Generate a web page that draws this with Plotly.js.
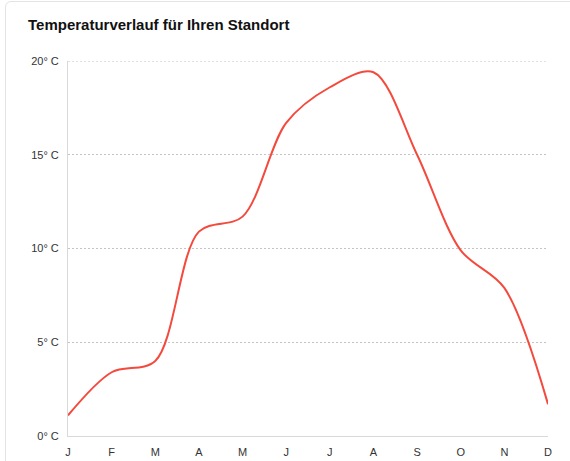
<!DOCTYPE html>
<html>
<head>
<meta charset="utf-8">
<script src="https://cdn.plot.ly/plotly-3.0.1.min.js"></script>
<style>
  html, body { margin: 0; padding: 0; background: #fff; overflow: hidden; }
  #chart { width: 570px; height: 461px; }
  #card { position: absolute; left: 5px; top: 1px; width: 620px; height: 520px;
          border: 1px solid #e3e3e3; border-radius: 6px; pointer-events: none; box-sizing: border-box; }
</style>
</head>
<body>
<div id="chart"></div>
<div id="card"></div>
<script>
const months = ["J", "F", "M", "A", "M", "J", "J", "A", "S", "O", "N", "D"];
const temperatures = [1.1, 3.4, 4.0, 10.9, 11.7, 16.7, 18.6, 19.4, 15.0, 9.9, 7.9, 1.7];
const yTickValues = [0, 5, 10, 15, 20];
const yTickLabels = ["0° C", "5° C", "10° C", "15° C", "20° C"];
const monthIndex = months.map((m, i) => i);

const trace = {
  x: monthIndex,
  y: temperatures,
  type: "scatter",
  mode: "lines",
  line: { color: "#f44a3e", width: 2, shape: "spline", smoothing: 0.9 },
  hoverinfo: "skip"
};

const yMax = yTickValues[yTickValues.length - 1];
const gridColor = "#c4c4c4";

const layout = {
  width: 570,
  height: 461,
  margin: { l: 68, r: 22, t: 61, b: 25 },
  paper_bgcolor: "rgba(0,0,0,0)",
  plot_bgcolor: "rgba(0,0,0,0)",
  showlegend: false,
  title: {
    text: "<b>Temperaturverlauf für Ihren Standort</b>",
    x: 0, xref: "container", xanchor: "left",
    y: 1, yref: "container", yanchor: "top",
    pad: { l: 28, t: 19 },
    font: { family: "Liberation Sans, Arial, sans-serif", size: 15, color: "#111" }
  },
  shapes: [{
    type: "line", xref: "paper", yref: "y",
    x0: 0, x1: 1, y0: yMax, y1: yMax,
    line: { color: gridColor, width: 1, dash: "2px,2px" },
    layer: "below"
  }],
  xaxis: {
    range: [0, 11],
    tickvals: monthIndex,
    ticktext: months,
    showgrid: false,
    zeroline: false,
    showline: true,
    linecolor: "#d9d9d9",
    linewidth: 1,
    ticks: "",
    ticklabelstandoff: 6,
    tickfont: { family: "Liberation Sans, Arial, sans-serif", size: 11, color: "#333" },
    fixedrange: true
  },
  yaxis: {
    range: [0, yMax],
    tickvals: yTickValues,
    ticktext: yTickLabels,
    showgrid: true,
    gridcolor: gridColor,
    griddash: "2px,2px",
    gridwidth: 1,
    zeroline: false,
    showline: true,
    linecolor: "#d9d9d9",
    linewidth: 1,
    ticks: "",
    ticklabelstandoff: 6,
    tickfont: { family: "Liberation Sans, Arial, sans-serif", size: 11, color: "#333" },
    fixedrange: true
  }
};

Plotly.newPlot("chart", [trace], layout, { displayModeBar: false, staticPlot: true });
</script>
</body>
</html>
